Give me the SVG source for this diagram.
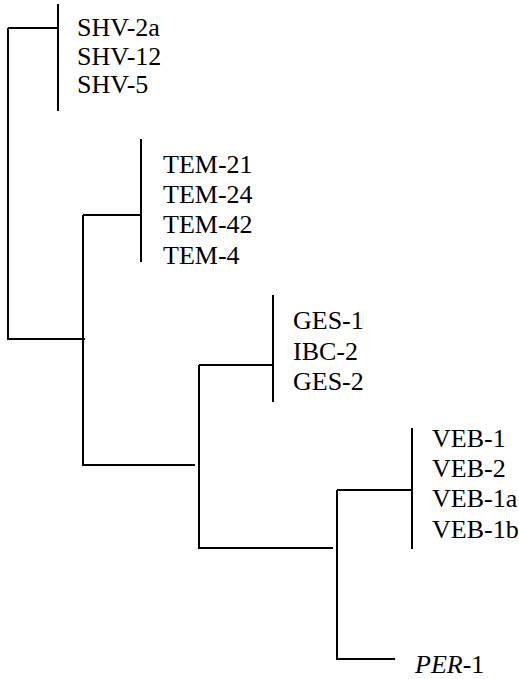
<svg xmlns="http://www.w3.org/2000/svg" width="519" height="679" viewBox="0 0 519 679">
<style>
.l{stroke:#000;stroke-width:2;fill:none}
text{font-family:"Liberation Serif","Times New Roman",serif;font-size:26px;fill:#000}
.i{font-style:italic}
</style>
<rect width="519" height="679" fill="#fff"/>
<g id="connectors">
<path class="l" d="M58,4V111"/>
<path class="l" d="M8,28H58"/>
<path class="l" d="M8,28V339H85"/>
<path class="l" d="M83,215V465H195"/>
<path class="l" d="M83,215H141"/>
<path class="l" d="M141,139V262"/>
<path class="l" d="M199,365V548H333"/>
<path class="l" d="M199,365H273"/>
<path class="l" d="M273,295V402"/>
<path class="l" d="M337,490V659H395"/>
<path class="l" d="M337,490H412"/>
<path class="l" d="M412,428V549"/>
</g>
<g id="shv"><text x="77" y="36">SHV-2a</text><text x="77" y="65">SHV-12</text><text x="77" y="93">SHV-5</text></g>
<g id="tem"><text x="163" y="173">TEM-21</text><text x="163" y="203">TEM-24</text><text x="163" y="233">TEM-42</text><text x="163" y="264">TEM-4</text></g>
<g id="ges"><text x="293" y="329">GES-1</text><text x="293" y="360">IBC-2</text><text x="293" y="390">GES-2</text></g>
<g id="veb"><text x="432" y="447">VEB-1</text><text x="432" y="477">VEB-2</text><text x="432" y="507">VEB-1a</text><text x="432" y="538">VEB-1b</text></g>
<g id="per"><text x="415" y="673"><tspan class="i">PER</tspan>-1</text></g>
</svg>
